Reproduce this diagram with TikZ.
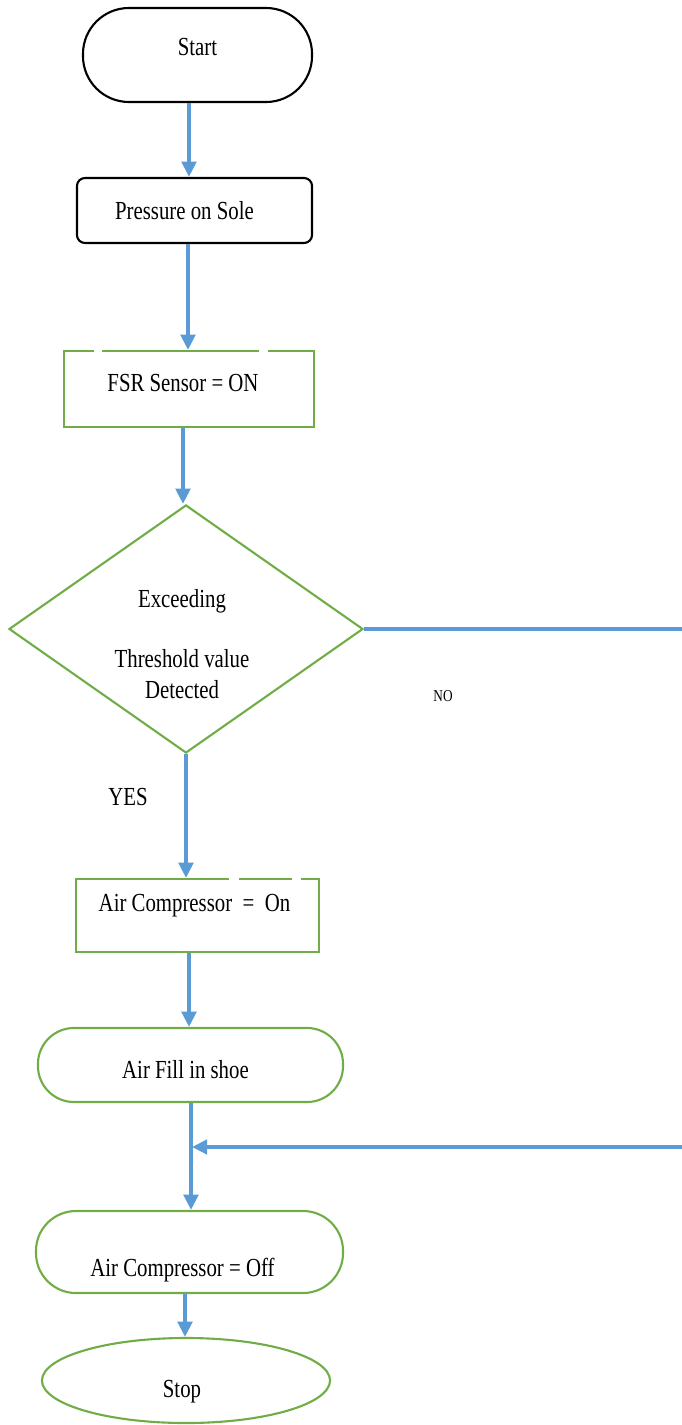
\documentclass[tikz,border=0pt]{standalone}
\usepackage{fontspec}
\setmainfont[FakeStretch=0.8]{Liberation Serif}
\usetikzlibrary{positioning}
\usetikzlibrary{arrows.meta}
\usetikzlibrary{calc}
\usetikzlibrary{shapes.geometric}

\definecolor{flowblue}{RGB}{91,155,213}
\definecolor{boxgreen}{RGB}{112,173,71}

\begin{document}
\begin{tikzpicture}[x=0.025cm,y=-0.025cm,
    every node/.append style={font=\fontsize{18.5}{22}\selectfont},
    blackbox/.style={draw=black, line width=1.5pt, inner sep=0pt},
    greenbox/.style={draw=boxgreen, line width=1.5pt, inner sep=0pt},
    flow/.style={draw=flowblue, line width=2.6pt, -{Triangle[width=0.36cm,length=0.38cm]}},
    flowline/.style={draw=flowblue, line width=2.6pt},
    gap/.style={draw=white, line width=3pt}]
	% keep the page the size of the reference
	\useasboundingbox (0,0) rectangle (682,1425);

	% boxes from top to bottom
	\node[blackbox, rounded corners=1.15cm, minimum width=5.725cm, minimum height=2.35cm,
	      label={[yshift=0.2cm]center:Start}] (start) at (197.5,55) {};
	\node[blackbox, rounded corners=0.2cm, minimum width=5.875cm, minimum height=1.625cm,
	      label={[xshift=-0.25cm]center:Pressure on Sole}] (press) at (194.5,210.5) {};
	\node[greenbox, minimum width=6.25cm, minimum height=1.9cm,
	      label={[xshift=-0.15cm,yshift=0.15cm]center:FSR Sensor = ON}] (fsr) at (189,389) {};
	\node[greenbox, diamond, minimum width=8.85cm, minimum height=6.2cm,
	      label={[align=center,xshift=-0.1cm,yshift=-0.375cm]center:Exceeding\\[21pt]Threshold value\\Detected}] (dec) at (186,629) {};
	\node[greenbox, minimum width=6.075cm, minimum height=1.825cm,
	      label={[xshift=-0.075cm,yshift=0.25cm]center:Air Compressor~~=~~On}] (acon) at (197.5,915.5) {};
	\node[greenbox, rounded corners=0.9cm, minimum width=7.625cm, minimum height=1.85cm,
	      label={[xshift=-0.125cm,yshift=-0.125cm]center:Air Fill in shoe}] (fill) at (190.5,1065) {};
	\node[greenbox, rounded corners=1cm, minimum width=7.675cm, minimum height=2.05cm,
	      label={[xshift=-0.175cm,yshift=-0.45cm]center:Air Compressor = Off}] (aoff) at (189.5,1252) {};
	\node[greenbox, ellipse, minimum width=7.2cm, minimum height=2.125cm,
	      label={[xshift=-0.1cm,yshift=-0.275cm]center:Stop}] (stop) at (186,1380.5) {};

	% broken top edges
	\draw[gap] ($(fsr.north west)+(31,0)$) -- +(8,0);
	\draw[gap] ($(fsr.north west)+(196,0)$) -- +(9,0);
	\draw[gap] ($(acon.north west)+(154,0)$) -- +(10,0);
	\draw[gap] ($(acon.north west)+(217,0)$) -- +(9,0);

	% branch labels
	\node (yes) at (128,797) {YES};
	\node[font=\fontsize{11.8}{14}\selectfont] (no) at (443,696) {NO};

	% arrows
	\draw[flow] ($(start.south)+(-8.5,0)$) -- ($(press.north)+(-5.5,0)$);
	\draw[flow] ($(press.south)+(-6.5,0)$) -- ($(fsr.north)+(-1,0)$);
	\draw[flow] ($(fsr.south)+(-6,0)$) -- ($(dec.north)+(-3,0)$);
	\draw[flow] (dec.south) -- ($(acon.north)+(-11.5,0)$);
	\draw[flow] ($(acon.south)+(-8.5,0)$) -- ($(fill.north)+(-1.5,0)$);
	\draw[flow] ($(fill.south)+(0.5,0)$) -- ($(aoff.north)+(1.5,0)$);
	\draw[flow] ($(aoff.south)+(-4.5,0)$) -- ($(stop.north)+(-1,0)$);

	% the NO way back
	\coordinate (mrg) at (192,1147);
	\draw[flowline] (dec.east) -- ++(321,0) coordinate (nr);
	\draw[flow] (nr) -- (nr |- mrg) -- (mrg);
\end{tikzpicture}
\end{document}
